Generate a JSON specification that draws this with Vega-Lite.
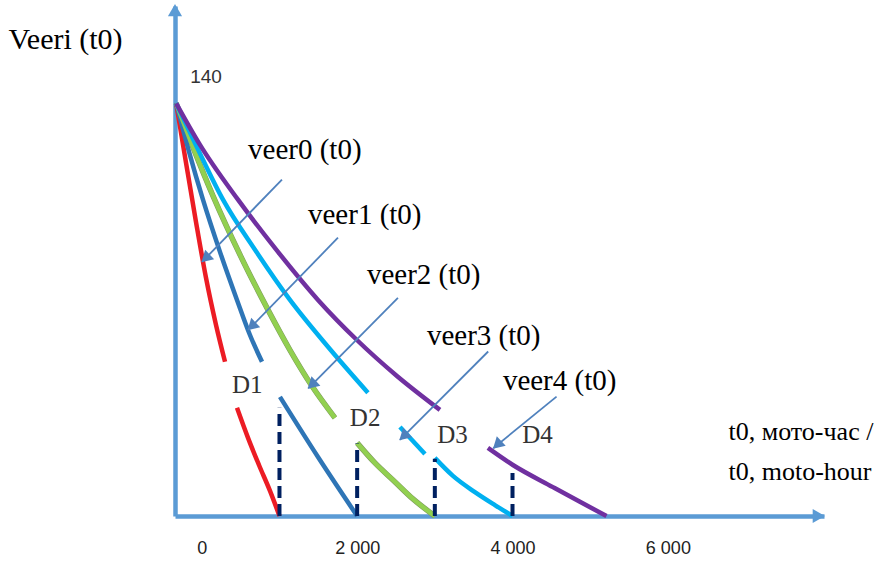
{
  "$schema": "https://vega.github.io/schema/vega-lite/v6.json",
  "autosize": {"type": "none"},
  "width": 649,
  "height": 510,
  "padding": {"left": 175, "top": 6, "right": 53, "bottom": 47},
  "background": "white",
  "config": {"view": {"stroke": null}},
  "datasets": {
    "curves": [
      {"series": "veer0", "seg": "a", "x": -330, "y": 140},
      {"series": "veer0", "seg": "a", "x": -203, "y": 119.8},
      {"series": "veer0", "seg": "a", "x": -75, "y": 99.8},
      {"series": "veer0", "seg": "a", "x": 54, "y": 80.8},
      {"series": "veer0", "seg": "a", "x": 183, "y": 64.8},
      {"series": "veer0", "seg": "a", "x": 299, "y": 52.3},
      {"series": "veer0", "seg": "b", "x": 453, "y": 36.7},
      {"series": "veer0", "seg": "b", "x": 595, "y": 26.5},
      {"series": "veer0", "seg": "b", "x": 736, "y": 17.3},
      {"series": "veer0", "seg": "b", "x": 878, "y": 8.5},
      {"series": "veer0", "seg": "b", "x": 1000, "y": 0},
      {"series": "veer1", "seg": "a", "x": -330, "y": 140},
      {"series": "veer1", "seg": "a", "x": -165, "y": 123.6},
      {"series": "veer1", "seg": "a", "x": 15, "y": 107.3},
      {"series": "veer1", "seg": "a", "x": 234, "y": 89.6},
      {"series": "veer1", "seg": "a", "x": 453, "y": 73.3},
      {"series": "veer1", "seg": "a", "x": 620, "y": 61.4},
      {"series": "veer1", "seg": "a", "x": 775, "y": 52.3},
      {"series": "veer1", "seg": "b", "x": 1006, "y": 40.4},
      {"series": "veer1", "seg": "b", "x": 1496, "y": 20.0},
      {"series": "veer1", "seg": "b", "x": 2000, "y": 0},
      {"series": "veer2", "seg": "a", "x": -330, "y": 140},
      {"series": "veer2", "seg": "a", "x": -100, "y": 124.2},
      {"series": "veer2", "seg": "a", "x": 144, "y": 108.6},
      {"series": "veer2", "seg": "a", "x": 492, "y": 88.6},
      {"series": "veer2", "seg": "a", "x": 839, "y": 70.6},
      {"series": "veer2", "seg": "a", "x": 1135, "y": 56.3},
      {"series": "veer2", "seg": "a", "x": 1418, "y": 44.1},
      {"series": "veer2", "seg": "a", "x": 1714, "y": 33.3},
      {"series": "veer2", "seg": "b", "x": 2000, "y": 24.8},
      {"series": "veer2", "seg": "b", "x": 2229, "y": 18.0},
      {"series": "veer2", "seg": "b", "x": 2474, "y": 11.9},
      {"series": "veer2", "seg": "b", "x": 2718, "y": 5.8},
      {"series": "veer2", "seg": "b", "x": 3000, "y": 0},
      {"series": "veer3", "seg": "a", "x": -330, "y": 140},
      {"series": "veer3", "seg": "a", "x": -46, "y": 124.2},
      {"series": "veer3", "seg": "a", "x": 273, "y": 107.3},
      {"series": "veer3", "seg": "a", "x": 685, "y": 90.3},
      {"series": "veer3", "seg": "a", "x": 1135, "y": 73.3},
      {"series": "veer3", "seg": "a", "x": 1624, "y": 57.4},
      {"series": "veer3", "seg": "a", "x": 2139, "y": 41.8},
      {"series": "veer3", "seg": "b", "x": 2551, "y": 30.2},
      {"series": "veer3", "seg": "b", "x": 2873, "y": 21.0},
      {"series": "veer3", "seg": "c", "x": 3000, "y": 19.7},
      {"series": "veer3", "seg": "c", "x": 3233, "y": 13.6},
      {"series": "veer3", "seg": "c", "x": 3516, "y": 8.1},
      {"series": "veer3", "seg": "c", "x": 3773, "y": 3.7},
      {"series": "veer3", "seg": "c", "x": 4000, "y": 0},
      {"series": "veer4", "seg": "a", "x": -330, "y": 140},
      {"series": "veer4", "seg": "a", "x": -23, "y": 125.9},
      {"series": "veer4", "seg": "a", "x": 466, "y": 107.3},
      {"series": "veer4", "seg": "a", "x": 981, "y": 89.6},
      {"series": "veer4", "seg": "a", "x": 1496, "y": 73.3},
      {"series": "veer4", "seg": "a", "x": 1997, "y": 59.7},
      {"series": "veer4", "seg": "a", "x": 2512, "y": 47.5},
      {"series": "veer4", "seg": "a", "x": 3066, "y": 36.0},
      {"series": "veer4", "seg": "b", "x": 3683, "y": 23.1},
      {"series": "veer4", "seg": "b", "x": 4005, "y": 17.3},
      {"series": "veer4", "seg": "b", "x": 4520, "y": 9.8},
      {"series": "veer4", "seg": "b", "x": 4868, "y": 4.8},
      {"series": "veer4", "seg": "b", "x": 5210, "y": 0}
    ],
    "repairs": [
      {"label": "D1", "x": 1000, "y": 0, "y2": 36.7},
      {"label": "D2", "x": 2000, "y": 0, "y2": 24.6},
      {"label": "D3", "x": 3000, "y": 0, "y2": 19.4},
      {"label": "D4", "x": 4000, "y": 0, "y2": 14.6}
    ],
    "callouts": [
      {"label": "veer0 (t0)", "x": 1032, "y": 114.1, "x2": 3, "y2": 86.2, "hx": 48, "hy": 87.4},
      {"label": "veer1 (t0)", "x": 1753, "y": 94.4, "x2": 597, "y2": 63.1, "hx": 641, "hy": 64.3},
      {"label": "veer2 (t0)", "x": 2525, "y": 74.0, "x2": 1371, "y2": 43.3, "hx": 1416, "hy": 44.5},
      {"label": "veer3 (t0)", "x": 3687, "y": 55.8, "x2": 2551, "y2": 25.8, "hx": 2596, "hy": 27.0},
      {"label": "veer4 (t0)", "x": 4567, "y": 40.5, "x2": 3752, "y2": 23.0, "hx": 3802, "hy": 24.1}
    ],
    "veerLabels": [
      {"text": "veer0 (t0)", "x": 595, "y": 124.2},
      {"text": "veer1 (t0)", "x": 1367, "y": 102.2},
      {"text": "veer2 (t0)", "x": 2126, "y": 81.8},
      {"text": "veer3 (t0)", "x": 2898, "y": 61.1},
      {"text": "veer4 (t0)", "x": 3876, "y": 45.8}
    ],
    "dLabels": [
      {"text": "D1", "x": 389, "y": 44.5},
      {"text": "D2", "x": 1906, "y": 33.3},
      {"text": "D3", "x": 3030, "y": 27.5},
      {"text": "D4", "x": 4124, "y": 27.5}
    ],
    "axisArrows": [
      {"axis": "y", "x": -345, "y": 171.6},
      {"axis": "x", "x": 7943, "y": 0}
    ],
    "valueLabel": [
      {"text": "140", "x": 54, "y": 149}
    ]
  },
  "encoding": {
    "x": {
      "field": "x", "type": "quantitative",
      "scale": {"domain": [-345, 8010], "nice": false, "zero": false},
      "axis": {
        "values": [0, 2000, 4000, 6000],
        "labelExpr": "replace(format(datum.value, ',d'), ',', ' ')",
        "domain": true, "domainColor": "#5B9BD5", "domainWidth": 4.5,
        "ticks": false, "grid": false,
        "labelFont": "Liberation Sans", "labelFontSize": 18, "labelColor": "#222222",
        "labelBaseline": "middle", "labelPadding": 32,
        "title": ["t0, мото-час /", "t0, moto-hour"],
        "titleFont": "Liberation Serif", "titleFontSize": 26, "titleFontWeight": "normal",
        "titleColor": "#000000", "titleAlign": "left", "titleBaseline": "alphabetic",
        "titleAngle": 0, "titleX": 553, "titleY": -77, "titleLineHeight": 40
      }
    },
    "y": {
      "field": "y", "type": "quantitative",
      "scale": {"domain": [0, 173], "nice": false, "zero": false},
      "axis": {
        "domain": true, "domainColor": "#5B9BD5", "domainWidth": 4.5,
        "ticks": false, "labels": false, "grid": false,
        "title": "Veeri (t0)",
        "titleFont": "Liberation Serif", "titleFontSize": 30, "titleFontWeight": "normal",
        "titleColor": "#000000", "titleAlign": "left", "titleBaseline": "alphabetic",
        "titleAngle": 0, "titleX": -167, "titleY": 42
      }
    }
  },
  "layer": [
    {
      "data": {"name": "curves"},
      "transform": [{"filter": "datum.series == 'veer2'"}],
      "mark": {"type": "line", "strokeWidth": 5.5, "interpolate": "monotone", "strokeCap": "butt"},
      "encoding": {
        "detail": {"field": "seg"},
        "color": {"value": "#7E9A5E"}
      }
    },
    {
      "data": {"name": "curves"},
      "mark": {"type": "line", "strokeWidth": 4.5, "interpolate": "monotone", "strokeCap": "butt"},
      "encoding": {
        "detail": {"field": "seg"},
        "color": {
          "field": "series", "type": "nominal",
          "scale": {"domain": ["veer0", "veer1", "veer2", "veer3", "veer4"],
                    "range": ["#EC1C24", "#2E75B6", "#92D050", "#00B0F0", "#7030A0"]},
          "legend": null
        }
      }
    },
    {
      "data": {"name": "repairs"},
      "mark": {"type": "rule", "strokeWidth": 4, "strokeDash": [12, 6], "color": "#002060"},
      "encoding": {"y2": {"field": "y2"}}
    },
    {
      "data": {"name": "callouts"},
      "mark": {"type": "rule", "strokeWidth": 1.8, "color": "#4F81BD"},
      "encoding": {"x2": {"field": "x2"}, "y2": {"field": "y2"}}
    },
    {
      "data": {"name": "callouts"},
      "mark": {"type": "point", "shape": "triangle-up", "filled": true, "size": 170, "angle": 227, "color": "#4F81BD", "opacity": 1},
      "encoding": {"x": {"field": "hx", "type": "quantitative"}, "y": {"field": "hy", "type": "quantitative"}}
    },
    {
      "data": {"name": "axisArrows"},
      "transform": [{"filter": "datum.axis == 'y'"}],
      "mark": {"type": "point", "shape": "triangle-up", "filled": true, "size": 200, "color": "#5B9BD5", "opacity": 1}
    },
    {
      "data": {"name": "axisArrows"},
      "transform": [{"filter": "datum.axis == 'x'"}],
      "mark": {"type": "point", "shape": "triangle-right", "filled": true, "size": 200, "color": "#5B9BD5", "opacity": 1}
    },
    {
      "data": {"name": "veerLabels"},
      "mark": {"type": "text", "font": "Liberation Serif", "fontSize": 29, "align": "left", "baseline": "middle", "color": "#000000"},
      "encoding": {"text": {"field": "text"}}
    },
    {
      "data": {"name": "dLabels"},
      "mark": {"type": "text", "font": "Liberation Serif", "fontSize": 25, "align": "left", "baseline": "middle", "color": "#333333"},
      "encoding": {"text": {"field": "text"}}
    },
    {
      "data": {"name": "valueLabel"},
      "mark": {"type": "text", "font": "Liberation Sans", "fontSize": 19, "align": "center", "baseline": "middle", "color": "#333333"},
      "encoding": {"text": {"field": "text"}}
    }
  ]
}
